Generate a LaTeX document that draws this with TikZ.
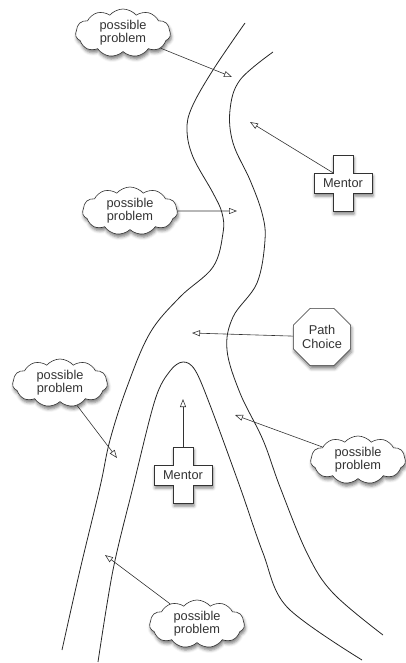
\documentclass[tikz,border=0pt]{standalone}
\usepackage{fontspec}
\setmainfont{Liberation Sans}
\usetikzlibrary{arrows.meta,shapes.symbols,shapes.geometric,shadows.blur,backgrounds}
\tikzset{
  senka/.style={blur shadow={shadow xshift=1pt,shadow yshift=-3pt,shadow blur radius=3pt,shadow opacity=50}},
  problem/.style={cloud,cloud puffs=11,cloud puff arc=100,aspect=2.2,draw=black!80,line width=0.6pt,
                  fill=white,senka,minimum width=95pt,minimum height=48pt,inner sep=0pt,
                  align=center,text=black!80,font=\fontsize{12.8}{13.3}\selectfont},
  choicebox/.style={regular polygon,regular polygon sides=8,minimum size=62pt,draw=black!80,
                  line width=0.6pt,fill=white,senka,inner sep=0pt,align=center,text=black!80,
                  font=\fontsize{12.8}{13.3}\selectfont},
  mentorbar/.style={minimum width=58pt,minimum height=20pt,inner sep=0pt,text=black!80,
                  font=\fontsize{12.8}{13.3}\selectfont},
  plus/.style={draw=black!80,line width=0.6pt,fill=white,senka},
  staza/.style={draw=black!85,line width=0.8pt},
  pointer/.style={-{Triangle[open,length=8pt,width=6pt]},line width=0.6pt,black!80},
}
\begin{document}
\begin{tikzpicture}[x=1pt,y=-1pt]
  \useasboundingbox (0,0) rectangle (406,663);

  % ---------- STAZA ----------
  \draw[staza] plot[smooth,tension=0.6] coordinates {
      (245,23) (213,70) (192,107) (187,130) (193,157) (213,193) (222,213) (223,233)
      (213,267) (180,297) (150,333) (127,387) (110,440) (100,487) (80,570) (62,650)};
  \draw[staza] plot[smooth,tension=0.6] coordinates {
      (273,52) (240,80) (230,110) (233,143) (250,180) (262,213) (265,240) (257,283)
      (233,317) (227,350) (240,393) (263,440) (280,487) (307,553) (333,593) (383,635)};
  \draw[staza] plot[smooth,tension=0.55] coordinates {
      (98,662) (113,570) (133,487) (155,400) (170,371) (183,362) (195,370) (210,405)
      (240,487) (263,553) (287,607) (362,660)};

  % ---------- CVOROVI ----------
  \node[problem] (probA) at (123,33) {possible\\problem};
  \node[problem] (probB) at (130,211) {possible\\problem};
  \node[problem] (probC) at (60,383) {possible\\problem};
  \node[problem] (probD) at (358,460) {possible\\problem};
  \node[problem] (probE) at (197,624) {possible\\problem};
  \node[choicebox] (choice) at (322,337) {Path\\Choice};
  \node[mentorbar] (mentorA) at (343,183) {Mentor};
  \node[mentorbar] (mentorB) at (183,475) {Mentor};

  \begin{scope}[on background layer]
    \foreach \m in {mentorA,mentorB}
      \path[plus] (\m.center) ++(-10,-28) -- ++(20,0) -- ++(0,18) -- ++(19,0) -- ++(0,20)
        -- ++(-19,0) -- ++(0,18) -- ++(-20,0) -- ++(0,-18) -- ++(-19,0) -- ++(0,-20)
        -- ++(19,0) -- cycle;
  \end{scope}

  % ---------- STRELICE ----------
  \coordinate (tA) at (232,77);
  \coordinate (tMA) at (250,122);
  \coordinate (tB) at (237,211);
  \coordinate (tC) at (192,333);
  \coordinate (tD) at (117,458);
  \coordinate (tMB) at (183,399);
  \coordinate (tE) at (235,415);
  \coordinate (tF) at (105,555);

  \draw[pointer] (probA) -- (tA);
  \draw[pointer] ([xshift=-10pt]mentorA.north) -- (tMA);
  \draw[pointer] (probB) -- (tB);
  \draw[pointer] (choice) -- (tC);
  \draw[pointer] (probC) -- (tD);
  \draw[pointer] ([yshift=18pt]mentorB.north) -- (tMB);
  \draw[pointer] (probD) -- (tE);
  \draw[pointer] (probE) -- (tF);

\end{tikzpicture}
\end{document}
